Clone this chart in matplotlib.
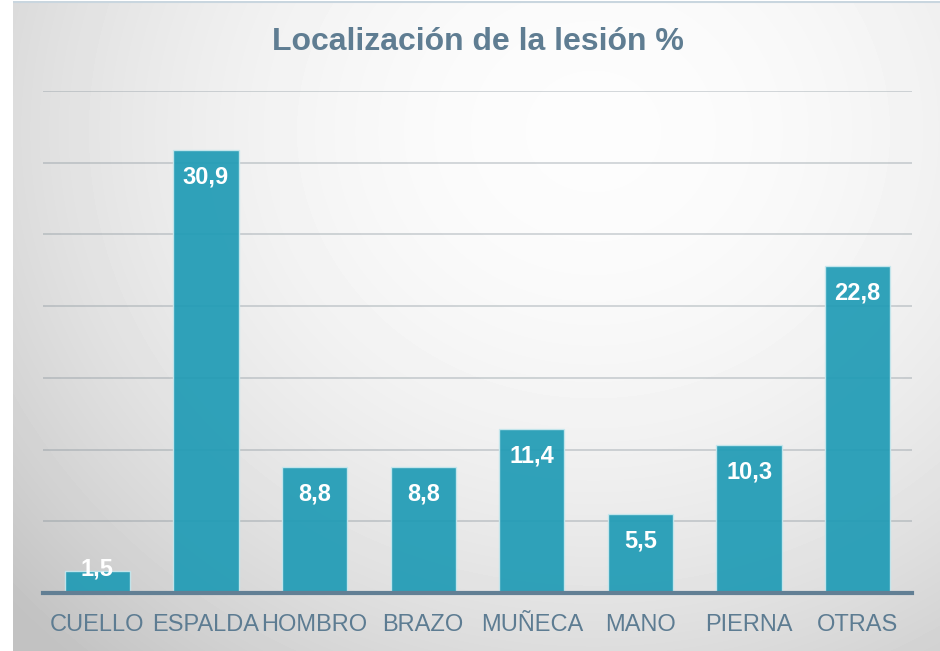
import numpy as np
import matplotlib
matplotlib.use("Agg")
import matplotlib.pyplot as plt

plt.rcParams['font.family'] = ['Liberation Sans', 'DejaVu Sans']

categories = ["CUELLO", "ESPALDA", "HOMBRO", "BRAZO", "MUÑECA", "MANO", "PIERNA", "OTRAS"]
values = [1.5, 30.9, 8.8, 8.8, 11.4, 5.5, 10.3, 22.8]
labels = ["1,5", "30,9", "8,8", "8,8", "11,4", "5,5", "10,3", "22,8"]

W, H = 940, 651
fig = plt.figure(figsize=(W / 100, H / 100), dpi=100)
fig.patch.set_facecolor("white")

# background panel with a soft radial gradient
bg = fig.add_axes([13 / W, 0, 1 - 13 / W, 650 / H])
yy, xx = np.mgrid[0:650, 0:927]
d2 = ((xx - 580) / 800.0) ** 2 + ((yy - 130) / 720.0) ** 2
shade = np.clip(0.99 - 0.24 * d2, 0.76, 1.0)
bg.imshow(shade, cmap="gray", vmin=0, vmax=1, aspect="auto", interpolation="bilinear")
bg.set_axis_off()
bg.plot([0, 926], [0.5, 0.5], color="#c9d6df", lw=1.5)

ax = fig.add_axes([43 / W, 58 / H, 869 / W, 502 / H])
ax.set_facecolor("none")
x = np.arange(len(categories))
ax.bar(x, values, width=0.6, color="#1f9bb5", alpha=0.92,
       edgecolor="#c8e8ee", linewidth=1.0, zorder=2)

ax.set_xlim(-0.5, len(categories) - 0.5)
ax.set_ylim(0, 35)
ax.set_yticks(np.arange(5, 36, 5))
ax.yaxis.grid(True, color="#7d8a93", alpha=0.35, lw=1.3, zorder=1)
ax.set_axisbelow(True)
ax.tick_params(axis="y", left=False, labelleft=False)
for s in ["top", "right", "left"]:
    ax.spines[s].set_visible(False)
ax.spines["bottom"].set_color("#627f94")
ax.spines["bottom"].set_linewidth(3)
ax.spines["bottom"].set_zorder(3)

ax.set_xticks(x)
ax.set_xticklabels(categories, fontsize=17, color="#5d7c92")
ax.tick_params(axis="x", length=0, pad=15)

for xi, v, lab in zip(x, values, labels):
    off = 2 if v < 3 else -27
    ax.annotate(lab, (xi, v), xytext=(0, off * 0.72), textcoords="offset points",
                ha="center", va="center", fontsize=17, fontweight="bold",
                color="white", zorder=4)

fig.text(478 / W, 1 - 42 / H, "Localización de la lesión %", ha="center", va="center",
         fontsize=23, fontweight="bold", color="#5f7d92")

fig.savefig("out.png", dpi=100)
